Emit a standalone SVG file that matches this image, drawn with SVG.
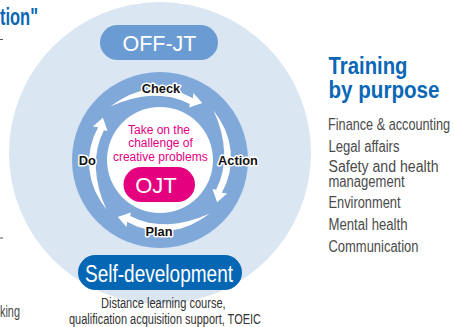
<svg xmlns="http://www.w3.org/2000/svg" xmlns:xlink="http://www.w3.org/1999/xlink" width="454" height="327" viewBox="0 0 454 327">
  <style>
    .heading { font-family: "Liberation Sans", Arial, sans-serif; font-weight: bold; fill: #0a67b5; font-size: 23px; }
    .item { font-family: "Liberation Sans", Arial, sans-serif; fill: #4a4a4a; font-size: 16px; }
    .pill-label { font-family: "Liberation Sans", Arial, sans-serif; fill: #ffffff; text-anchor: middle; }
    .step { font-family: "Liberation Sans", Arial, sans-serif; font-weight: bold; font-size: 12.8px; fill: #111111; text-anchor: middle;
            stroke: #ffffff; stroke-width: 3px; stroke-linejoin: round; paint-order: stroke fill; }
    .theme { font-family: "Liberation Sans", Arial, sans-serif; font-size: 12px; fill: #e4007f; text-anchor: middle; }
    .note { font-family: "Liberation Sans", Arial, sans-serif; font-size: 14px; fill: #333333; text-anchor: middle; }
    .cycle-arrow { fill: #ffffff; }
  </style>
  <defs>
    <!-- tapered clockwise arrow on the PDCA ring, drawn at the top position -->
    <path id="pdca-arrow" d="M110.21,106.61 L119.50,100.25 L129.34,94.99 L139.82,91.34 L150.70,89.36 L161.70,89.08 L172.57,90.50 L183.04,93.57 L192.86,98.19 L193.47,92.88 L202.23,102.93 L189.09,107.52 L189.81,103.93 L180.81,99.99 L171.33,97.37 L161.54,96.02 L151.56,95.86 L141.44,96.85 L131.20,98.94 L120.80,102.17 Z"/>
  </defs>

  <!-- pieces of neighbouring content at the left edge -->
  <text class="heading" x="0" y="25" font-size="21" textLength="38" lengthAdjust="spacingAndGlyphs">tion"</text>
  <line x1="0" y1="39.5" x2="3" y2="39.5" stroke="#555555" stroke-width="1"/>
  <line x1="0" y1="238" x2="3" y2="238" stroke="#555555" stroke-width="1"/>
  <text class="item" x="0" y="317" textLength="20" lengthAdjust="spacingAndGlyphs">king</text>

  <!-- outer disc -->
  <g id="training-system">
    <circle cx="160" cy="153" r="151" fill="#dbe6f3"/>
  </g>

  <!-- OFF-JT -->
  <g id="off-jt">
    <rect x="100" y="25" width="118" height="35" rx="17.5" fill="#6a9bd2"/>
    <text class="pill-label" x="159.5" y="51" font-size="21.5">OFF-JT</text>
  </g>

  <!-- PDCA ring -->
  <g id="pdca-ring">
    <circle cx="160" cy="160" r="88" fill="#80a9d9"/>
    <circle cx="160" cy="160" r="53" fill="#ffffff"/>
  </g>

  <g id="connectors">
    <use xlink:href="#pdca-arrow" class="cycle-arrow"/>
    <use xlink:href="#pdca-arrow" class="cycle-arrow" transform="rotate(90 160 160)"/>
    <use xlink:href="#pdca-arrow" class="cycle-arrow" transform="rotate(180 160 160)"/>
    <use xlink:href="#pdca-arrow" class="cycle-arrow" transform="rotate(270 160 160)"/>
  </g>

  <g id="step-check"><text class="step" x="161" y="92.5">Check</text></g>
  <g id="step-action"><text class="step" x="238" y="165">Action</text></g>
  <g id="step-plan"><text class="step" x="159" y="235.5">Plan</text></g>
  <g id="step-do"><text class="step" x="87.3" y="165">Do</text></g>

  <!-- OJT core -->
  <g id="ojt">
    <text class="theme" x="159" y="134">Take on the</text>
    <text class="theme" x="160.5" y="147.3">challenge of</text>
    <text class="theme" x="160.3" y="160.7">creative problems</text>
    <rect x="123.5" y="167" width="71.5" height="35" rx="17.5" fill="#e4007f"/>
    <text class="pill-label" x="156" y="193" font-size="22">OJT</text>
  </g>

  <!-- Self-development -->
  <g id="self-development">
    <rect x="78" y="255" width="164" height="35" rx="17.5" fill="#0567b4"/>
    <text class="pill-label" x="159" y="282" font-size="23" textLength="148" lengthAdjust="spacingAndGlyphs">Self-development</text>
    <text class="note" x="163.3" y="307.5" textLength="124.7" lengthAdjust="spacingAndGlyphs">Distance learning course,</text>
    <text class="note" x="165" y="323.5" textLength="192" lengthAdjust="spacingAndGlyphs">qualification acquisition support, TOEIC</text>
  </g>

  <!-- Training by purpose -->
  <g id="training-by-purpose">
    <text class="heading" x="328.5" y="73.5" textLength="79" lengthAdjust="spacingAndGlyphs">Training</text>
    <text class="heading" x="328.5" y="97.5" textLength="111" lengthAdjust="spacingAndGlyphs">by purpose</text>
    <!-- longest line: narrowed with a vertical stretch instead of textLength -->
    <text class="item" transform="translate(328 130) scale(1 1.26)" style="font-size:12.7px">Finance &amp; accounting</text>
    <text class="item" x="328.5" y="151.5" textLength="71" lengthAdjust="spacingAndGlyphs">Legal affairs</text>
    <text class="item" x="328.5" y="171.7" textLength="110" lengthAdjust="spacingAndGlyphs">Safety and health</text>
    <text class="item" x="328.5" y="187" textLength="76" lengthAdjust="spacingAndGlyphs">management</text>
    <text class="item" x="328.5" y="208.3" textLength="72" lengthAdjust="spacingAndGlyphs">Environment</text>
    <text class="item" x="328.5" y="230" textLength="79" lengthAdjust="spacingAndGlyphs">Mental health</text>
    <text class="item" x="328.5" y="251.7" textLength="90" lengthAdjust="spacingAndGlyphs">Communication</text>
  </g>
</svg>
